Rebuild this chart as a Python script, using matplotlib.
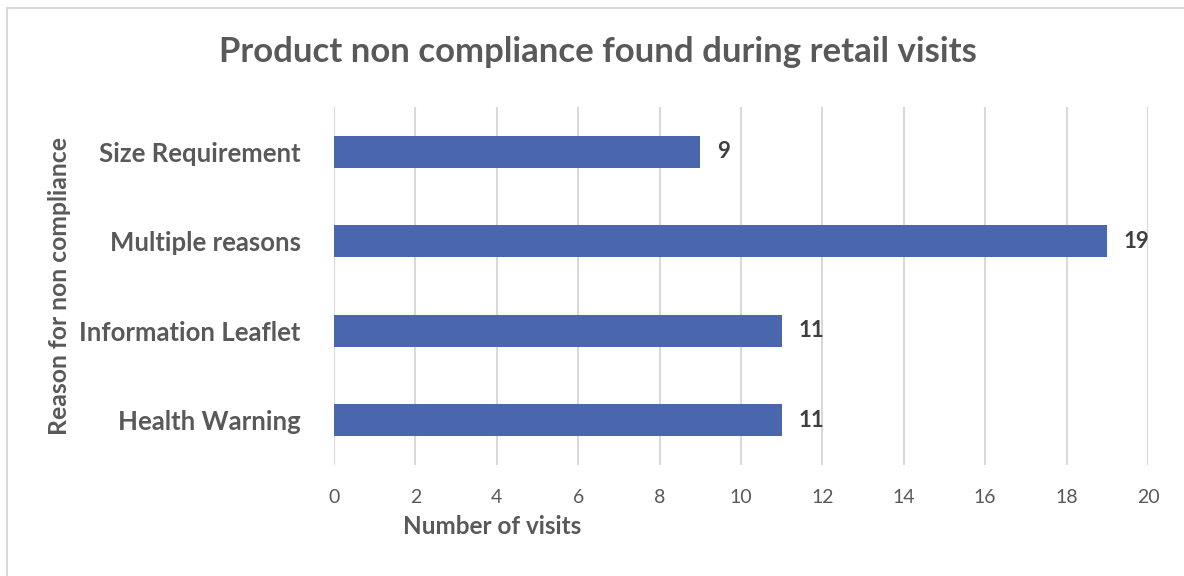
import matplotlib
matplotlib.use("Agg")
import matplotlib.pyplot as plt
from matplotlib.patches import Rectangle

# Data
categories = ["Health Warning", "Information Leaflet", "Multiple reasons", "Size Requirement"]
visits = [11, 11, 19, 9]
x_ticks = [0, 2, 4, 6, 8, 10, 12, 14, 16, 18, 20]

title = "Product non compliance found during retail visits"
x_label = "Number of visits"
y_label = "Reason for non compliance"

plt.rcParams["font.family"] = ["Lato", "DejaVu Sans"]

TEXT = "#595959"
GRID = "#d9d9d9"
BAR = "#4a67ad"

fig = plt.figure(figsize=(11.84, 5.76), dpi=100)
fig.patch.set_facecolor("white")

# chart frame
fig.patches.append(Rectangle((7 / 1184, -0.05), 1.2, 1 - 8 / 576 + 0.05,
                             transform=fig.transFigure, fill=False,
                             edgecolor=GRID, linewidth=1.5))

ax = fig.add_axes([334 / 1184, 1 - 465 / 576, (1148 - 334) / 1184, (465 - 107) / 576])
y = range(len(categories))
ax.barh(y, visits, height=0.355, color=BAR, zorder=3)

ax.set_xlim(0, 20)
ax.set_ylim(-0.5, len(categories) - 0.5)
ax.set_xticks(x_ticks)
ax.set_xticklabels([str(t) for t in x_ticks], fontsize=14, color=TEXT)
ax.set_yticks(list(y))
ax.set_yticklabels(categories, fontsize=18.5, fontweight="bold", color=TEXT)
ax.tick_params(axis="x", length=0, pad=17)
ax.tick_params(axis="y", length=0, pad=24)

ax.grid(axis="x", color=GRID, linewidth=1.5, zorder=0)
for s in ax.spines.values():
    s.set_visible(False)

for yi, v in zip(y, visits):
    ax.annotate(str(v), (v, yi), xytext=(12, 0), textcoords="offset points",
                va="center", ha="left", fontsize=16, fontweight="bold",
                color="#404040")

fig.text(598 / 1184, 1 - 52 / 576, title, ha="center", va="center",
         fontsize=25, fontweight="bold", color=TEXT)
fig.text(492 / 1184, 1 - 527 / 576, x_label, ha="center", va="center",
         fontsize=17.5, fontweight="bold", color=TEXT)
fig.text(60 / 1184, 1 - 286 / 576, y_label, ha="center", va="center",
         rotation=90, fontsize=17.8, fontweight="bold", color=TEXT)

fig.savefig("out.png", dpi=100, facecolor="white")
